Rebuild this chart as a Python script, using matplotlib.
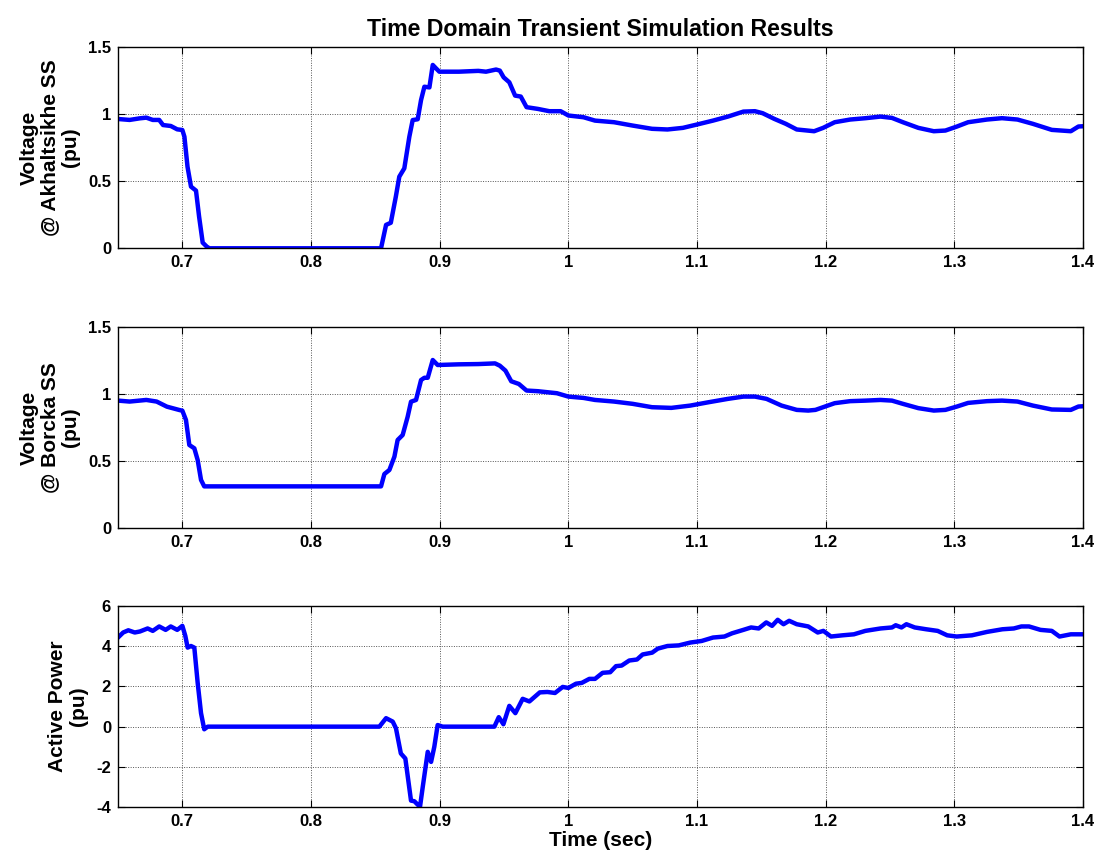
import numpy as np
import matplotlib
matplotlib.use("Agg")
import matplotlib.pyplot as plt

# --- Voltage at Akhaltsikhe SS (pu) ---
t_akh = [0.650, 0.659, 0.667, 0.672, 0.677, 0.682, 0.685, 0.691, 0.696, 0.700,
         0.7016, 0.704, 0.7067, 0.7106, 0.713, 0.7158, 0.719, 0.721, 0.8544, 0.8583,
         0.862, 0.8659, 0.8686, 0.8725, 0.8764, 0.879, 0.8829, 0.8855, 0.8881, 0.892,
         0.8946, 0.8971, 0.8997, 0.915, 0.930, 0.936, 0.9438, 0.9467, 0.9497, 0.9541,
         0.9586, 0.963, 0.9675, 0.9763, 0.9852, 0.994, 1.000, 1.0118, 1.0207, 1.0355,
         1.050, 1.065, 1.077, 1.089, 1.100, 1.1124, 1.124, 1.136, 1.145, 1.151,
         1.160, 1.169, 1.1775, 1.191, 1.198, 1.207, 1.219, 1.231, 1.2426, 1.2515,
         1.260, 1.272, 1.284, 1.293, 1.302, 1.3107, 1.3254, 1.337, 1.349, 1.361,
         1.3757, 1.3905, 1.3964, 1.400]
v_akh = [0.962, 0.955, 0.967, 0.972, 0.955, 0.955, 0.917, 0.910, 0.885, 0.880,
         0.830, 0.607, 0.459, 0.429, 0.236, 0.042, 0.012, 0.000, 0.000, 0.174,
         0.190, 0.384, 0.533, 0.595, 0.830, 0.954, 0.960, 1.103, 1.202, 1.197,
         1.364, 1.339, 1.314, 1.314, 1.320, 1.314, 1.330, 1.322, 1.272, 1.235,
         1.136, 1.129, 1.050, 1.037, 1.020, 1.020, 0.988, 0.975, 0.950, 0.938,
         0.913, 0.889, 0.884, 0.896, 0.921, 0.950, 0.980, 1.017, 1.020, 1.005,
         0.963, 0.926, 0.884, 0.871, 0.896, 0.938, 0.958, 0.968, 0.980, 0.970,
         0.938, 0.896, 0.871, 0.876, 0.906, 0.938, 0.958, 0.968, 0.958, 0.926,
         0.881, 0.871, 0.906, 0.908]

# --- Voltage at Borcka SS (pu) ---
t_bor = [0.650, 0.659, 0.672, 0.680, 0.688, 0.6977, 0.700, 0.7028, 0.7054, 0.7093,
         0.7119, 0.7145, 0.717, 0.8544, 0.857, 0.8609, 0.8648, 0.8673, 0.8712, 0.8751,
         0.8777, 0.8816, 0.8855, 0.8881, 0.8907, 0.8946, 0.8984, 0.915, 0.930, 0.943,
         0.9467, 0.9511, 0.9556, 0.9615, 0.9675, 0.9763, 0.9911, 1.000, 1.0118, 1.0207,
         1.0355, 1.050, 1.065, 1.080, 1.0947, 1.109, 1.124, 1.136, 1.145, 1.154,
         1.1657, 1.1775, 1.1864, 1.192, 1.198, 1.207, 1.219, 1.231, 1.2426, 1.2515,
         1.260, 1.272, 1.284, 1.293, 1.302, 1.3107, 1.3254, 1.337, 1.349, 1.361,
         1.3757, 1.3905, 1.3964, 1.400]
v_bor = [0.950, 0.943, 0.955, 0.943, 0.905, 0.880, 0.875, 0.806, 0.620, 0.595,
         0.508, 0.360, 0.312, 0.312, 0.404, 0.434, 0.533, 0.657, 0.694, 0.830,
         0.942, 0.955, 1.103, 1.120, 1.120, 1.252, 1.215, 1.220, 1.222, 1.227,
         1.210, 1.173, 1.094, 1.074, 1.025, 1.020, 1.005, 0.980, 0.970, 0.955,
         0.943, 0.926, 0.901, 0.896, 0.913, 0.938, 0.963, 0.980, 0.980, 0.963,
         0.913, 0.881, 0.876, 0.881, 0.901, 0.931, 0.946, 0.950, 0.955, 0.950,
         0.926, 0.894, 0.876, 0.881, 0.906, 0.933, 0.946, 0.950, 0.943, 0.913,
         0.884, 0.881, 0.906, 0.908]

# --- Active power (pu) ---
t_p = [0.650, 0.654, 0.658, 0.663, 0.667, 0.673, 0.677, 0.682, 0.687, 0.691,
       0.696, 0.700, 0.7023, 0.7041, 0.7067, 0.7093, 0.7119, 0.7145, 0.717, 0.7197,
       0.8531, 0.8583, 0.8635, 0.866, 0.8698, 0.8733, 0.8777, 0.8803, 0.8829, 0.8847,
       0.8868, 0.8907, 0.8933, 0.8958, 0.8984, 0.9023, 0.9386, 0.9425, 0.9459, 0.9495,
       0.9541, 0.9588, 0.9645, 0.9697, 0.9778, 0.9837, 0.9896, 0.9956, 1.000, 1.0059,
       1.0104, 1.0163, 1.0207, 1.0266, 1.0325, 1.037, 1.0414, 1.0473, 1.0533, 1.0577,
       1.0651, 1.0695, 1.077, 1.0858, 1.0947, 1.1036, 1.1124, 1.1213, 1.1272, 1.136,
       1.142, 1.1479, 1.1538, 1.1583, 1.1627, 1.1672, 1.1716, 1.1775, 1.1864, 1.1938,
       1.1982, 1.2041, 1.213, 1.2219, 1.2308, 1.2426, 1.2515, 1.2544, 1.2589, 1.2627,
       1.2692, 1.2781, 1.287, 1.2944, 1.3018, 1.3136, 1.3254, 1.3373, 1.3462, 1.3521,
       1.358, 1.3669, 1.3757, 1.3817, 1.3905, 1.395, 1.400]
p_act = [4.42, 4.67, 4.78, 4.67, 4.72, 4.87, 4.75, 4.97, 4.80, 4.97,
         4.80, 5.00, 4.50, 3.92, 4.00, 3.92, 2.17, 0.67, -0.13, 0.00,
         0.00, 0.42, 0.25, -0.08, -1.33, -1.58, -3.67, -3.70, -3.87, -3.97,
         -3.00, -1.25, -1.75, -1.00, 0.08, 0.00, 0.00, 0.00, 0.47, 0.12,
         1.03, 0.67, 1.38, 1.25, 1.70, 1.72, 1.67, 1.97, 1.92, 2.13,
         2.17, 2.37, 2.37, 2.67, 2.70, 3.00, 3.03, 3.28, 3.33, 3.58,
         3.67, 3.87, 4.00, 4.03, 4.17, 4.25, 4.42, 4.47, 4.63, 4.80,
         4.92, 4.87, 5.17, 5.00, 5.30, 5.08, 5.25, 5.08, 4.97, 4.67,
         4.75, 4.47, 4.53, 4.58, 4.75, 4.87, 4.92, 5.03, 4.92, 5.08,
         4.92, 4.83, 4.75, 4.53, 4.47, 4.53, 4.70, 4.83, 4.87, 4.97,
         4.97, 4.80, 4.75, 4.47, 4.58, 4.58, 4.58]

x_ticks = [0.7, 0.8, 0.9, 1.0, 1.1, 1.2, 1.3, 1.4]
x_tick_labels = ["0.7", "0.8", "0.9", "1", "1.1", "1.2", "1.3", "1.4"]
v_ticks = [0, 0.5, 1.0, 1.5]
v_tick_labels = ["0", "0.5", "1", "1.5"]
p_ticks = [-4, -2, 0, 2, 4, 6]
p_tick_labels = ["-4", "-2", "0", "2", "4", "6"]

plt.rcParams["font.family"] = ["Liberation Sans", "DejaVu Sans"]
plt.rcParams["font.weight"] = "bold"

fig = plt.figure(figsize=(11.01, 8.55), dpi=100)
left, width, height = 0.1072, 0.8765, 0.2358
bottoms = [0.7096, 0.3821, 0.0558]

panels = [
    (t_akh, v_akh, (0, 1.5), v_ticks, v_tick_labels, "Voltage\n@ Akhaltsikhe SS\n(pu)"),
    (t_bor, v_bor, (0, 1.5), v_ticks, v_tick_labels, "Voltage\n@ Borcka SS\n(pu)"),
    (t_p, p_act, (-4, 6), p_ticks, p_tick_labels, "Active Power\n(pu)"),
]

axes = []
for b, (tx, yv, ylim, yt, ytl, ylab) in zip(bottoms, panels):
    ax = fig.add_axes([left, b, width, height])
    ax.plot(tx, yv, color="#0000ff", lw=3.2, solid_joinstyle="round")
    ax.set_xlim(0.65, 1.4)
    ax.set_ylim(*ylim)
    ax.set_xticks(x_ticks)
    ax.set_xticklabels(x_tick_labels)
    ax.set_yticks(yt)
    ax.set_yticklabels(ytl)
    ax.grid(True, color="#555555", linestyle=(0, (1, 1.5)), linewidth=0.7)
    ax.tick_params(direction="in", top=True, right=True, length=5, width=0.8,
                   labelsize=12, pad=5)
    for lbl in ax.get_xticklabels() + ax.get_yticklabels():
        lbl.set_fontweight("bold")
    for sp in ax.spines.values():
        sp.set_linewidth(1.0)
    ax.set_ylabel(ylab, fontsize=15, fontweight="bold", labelpad=6, linespacing=1.1)
    axes.append(ax)

axes[0].set_title("Time Domain Transient Simulation Results", fontsize=16.7,
                  fontweight="bold", pad=8)
axes[2].set_xlabel("Time (sec)", fontsize=15, fontweight="bold", labelpad=1)

fig.savefig("out.png", dpi=100)
